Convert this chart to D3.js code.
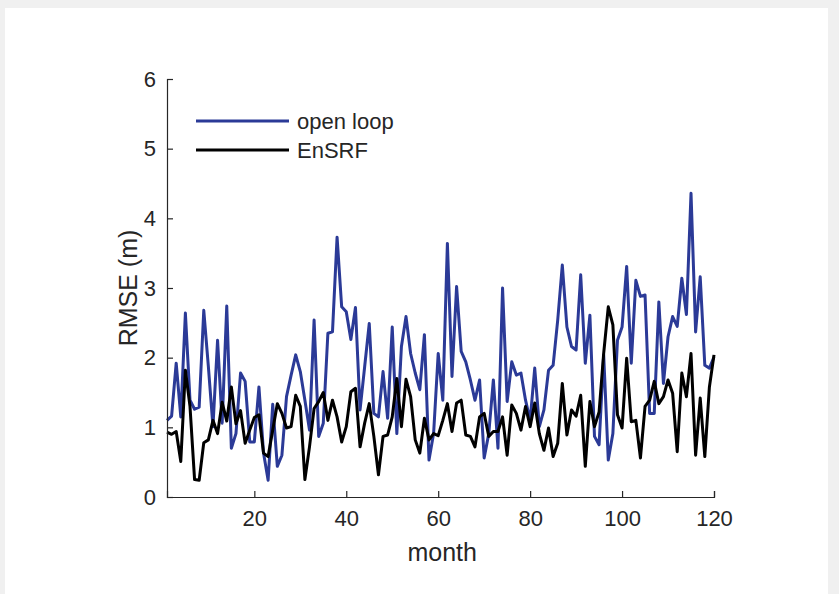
<!DOCTYPE html>
<html>
<head>
<meta charset="utf-8">
<script src="https://cdn.jsdelivr.net/npm/d3@7"></script>
<style>
	body { margin: 0; background: #f0f0f0; }
	svg { display: block; }
	text { font-family: "Liberation Sans", Arial, sans-serif; fill: #262626; }
</style>
</head>
<body>
<svg width="839" height="594"></svg>
<script>
// monthly RMSE (m), months 1..120
var openLoop = [
	1.10, 1.16, 1.92, 1.15, 2.64, 1.39, 1.26, 1.29, 2.68, 1.87,
	1.01, 2.25, 1.06, 2.74, 0.70, 0.91, 1.78, 1.66, 0.79, 0.79,
	1.58, 0.63, 0.24, 1.33, 0.44, 0.60, 1.44, 1.75, 2.04, 1.80,
	1.39, 0.96, 2.54, 0.87, 1.06, 2.35, 2.37, 3.73, 2.73, 2.66,
	2.26, 2.72, 1.25, 1.87, 2.49, 1.20, 1.15, 1.80, 1.13, 2.44,
	0.91, 2.16, 2.59, 2.06, 1.78, 1.54, 2.33, 0.53, 0.91, 2.06,
	1.39, 3.64, 1.73, 3.02, 2.09, 1.94, 1.68, 1.39, 1.68, 0.56,
	0.91, 1.68, 0.70, 3.00, 1.37, 1.94, 1.75, 1.78, 1.39, 1.10,
	1.85, 1.01, 1.25, 1.82, 1.89, 2.54, 3.33, 2.44, 2.16, 2.11,
	3.19, 1.92, 2.61, 0.87, 0.75, 2.04, 0.53, 0.91, 2.25, 2.44,
	3.31, 1.92, 3.11, 2.88, 2.90, 1.20, 1.20, 2.80, 1.63, 2.30,
	2.59, 2.45, 3.14, 2.62, 4.36, 2.37, 3.16, 1.89, 1.85, 2.01
];
var enSRF = [
	0.93, 0.90, 0.94, 0.51, 1.82, 1.30, 0.25, 0.24, 0.78, 0.82,
	1.10, 0.91, 1.36, 1.09, 1.58, 1.05, 1.24, 0.77, 0.96, 1.14,
	1.18, 0.63, 0.58, 0.96, 1.34, 1.20, 0.99, 1.01, 1.46, 1.30,
	0.25, 0.72, 1.27, 1.37, 1.50, 1.10, 1.39, 1.15, 0.79, 1.01,
	1.51, 1.56, 0.72, 1.06, 1.34, 0.87, 0.32, 0.87, 0.89, 1.15,
	1.70, 1.01, 1.69, 1.44, 0.82, 0.63, 1.13, 0.82, 0.91, 0.88,
	1.10, 1.34, 0.94, 1.35, 1.39, 0.89, 0.87, 0.72, 1.15, 1.20,
	0.87, 0.94, 0.94, 1.15, 0.60, 1.32, 1.20, 0.96, 1.30, 1.01,
	1.35, 0.91, 0.67, 0.99, 0.58, 0.77, 1.63, 0.89, 1.25, 1.16,
	1.46, 0.44, 1.37, 1.01, 1.22, 2.06, 2.73, 2.47, 1.18, 0.99,
	1.99, 1.08, 1.10, 0.56, 1.30, 1.39, 1.66, 1.34, 1.44, 1.68,
	1.49, 0.65, 1.78, 1.44, 2.06, 0.60, 1.42, 0.58, 1.58, 2.04
];
var xTicks = [20, 40, 60, 80, 100, 120];
var yTicks = [0, 1, 2, 3, 4, 5, 6];
var seriesNames = ["open loop", "EnSRF"];
var seriesColors = ["#2b3a97", "#000000"];

var svg = d3.select("svg");

svg.append("rect")
	.attr("x", 5).attr("y", 8)
	.attr("width", 823).attr("height", 586)
	.attr("fill", "#ffffff");

var x = d3.scaleLinear().domain([1, 120]).range([167, 714]),
	y = d3.scaleLinear().domain([0, 6]).range([497, 79]);

var line = d3.line()
	.x(function(d, i) { return x(i + 1); })
	.y(function(d) { return y(d); });

var g = svg.append("g");

[openLoop, enSRF].forEach(function(s, k) {
	g.append("path")
		.datum(s)
		.attr("fill", "none")
		.attr("stroke", seriesColors[k])
		.attr("stroke-width", 3)
		.attr("stroke-linejoin", "round")
		.attr("d", line);
});

// axes, ticks pointing inward like matlab
var xAxis = svg.append("g")
	.attr("transform", "translate(0," + y(0) + ")")
	.call(d3.axisBottom(x).tickValues(xTicks).tickFormat(d3.format("d"))
		.tickSizeInner(-6).tickSizeOuter(-6).tickPadding(13));
var yAxis = svg.append("g")
	.attr("transform", "translate(" + x(1) + ",0)")
	.call(d3.axisLeft(y).tickValues(yTicks).tickFormat(d3.format("d"))
		.tickSizeInner(-6).tickSizeOuter(-6).tickPadding(11));

[xAxis, yAxis].forEach(function(a) {
	a.select(".domain").attr("stroke", "#262626").attr("stroke-width", 1.2);
	a.selectAll(".tick line").attr("stroke", "#262626").attr("stroke-width", 1.2);
	a.selectAll(".tick text").attr("font-size", 22).attr("fill", "#262626")
		.attr("font-family", "Liberation Sans, Arial, sans-serif");
});

svg.append("text")
	.attr("x", x(60) + 4)
	.attr("y", 561)
	.attr("text-anchor", "middle")
	.attr("font-size", 25)
	.text("month");

svg.append("text")
	.attr("transform", "translate(137," + y(3) + ") rotate(-90)")
	.attr("text-anchor", "middle")
	.attr("font-size", 25)
	.text("RMSE (m)");

// legend
var legend = svg.selectAll(".legend")
	.data(seriesNames)
	.enter().append("g")
	.attr("class", "legend")
	.attr("transform", function(d, i) { return "translate(196," + (121 + i * 29) + ")"; });

legend.append("line")
	.attr("x1", 0).attr("x2", 93)
	.attr("stroke", function(d, i) { return seriesColors[i]; })
	.attr("stroke-width", 3);

legend.append("text")
	.attr("x", 101)
	.attr("y", 8)
	.attr("font-size", 22)
	.text(function(d) { return d; });
</script>
</body>
</html>
